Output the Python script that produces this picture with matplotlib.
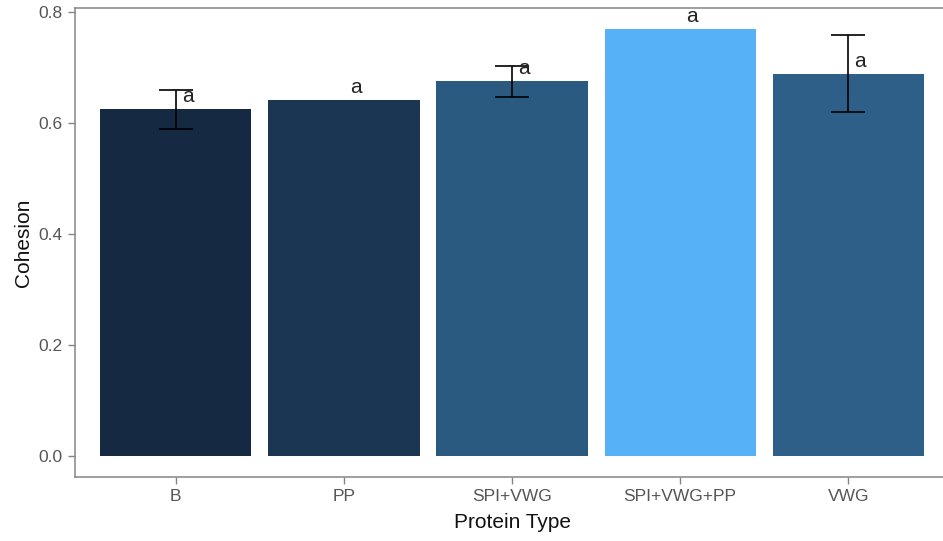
import numpy as np
import matplotlib.pyplot as plt

plt.rcParams['font.family'] = ['Liberation Sans', 'DejaVu Sans']

proteins = ['B', 'PP', 'SPI+VWG', 'SPI+VWG+PP', 'VWG']
cohesion = [0.625, 0.641, 0.675, 0.769, 0.689]
se = [0.035, np.nan, 0.028, np.nan, 0.070]
groups = ['a', 'a', 'a', 'a', 'a']
fills = ['#152A42', '#1B3652', '#2A5A80', '#56B1F7', '#2D5F88']

fig = plt.figure(figsize=(9.43, 5.41), dpi=100)
ax = fig.add_axes([0.0795, 0.1183, 0.927, 0.8667])

x = np.arange(len(proteins))
ax.bar(x, cohesion, width=0.9, color=fills, zorder=2)

# only draw error bars where a standard error exists
has_se = ~np.isnan(se)
ax.errorbar(x[has_se], np.array(cohesion)[has_se], yerr=np.array(se)[has_se],
            fmt='none', ecolor='black', elinewidth=1.2, capsize=12,
            capthick=1.2, zorder=3)

for xi, yi, g in zip(x, cohesion, groups):
    ax.annotate(g, (xi + 0.07, yi), xytext=(0, 5), textcoords='offset points',
                ha='center', va='baseline', fontsize=15, color='#222222',
                zorder=4)

ax.set_xlim(-0.6, 4.6)
ax.set_ylim(-0.038, 0.807)
ax.set_xticks(x)
ax.set_xticklabels(proteins)
ax.set_yticks([0.0, 0.2, 0.4, 0.6, 0.8])
ax.set_yticklabels(['0.0', '0.2', '0.4', '0.6', '0.8'])

for s in ax.spines.values():
    s.set_color('#858585')
    s.set_linewidth(1.1)

ax.tick_params(axis='both', colors='#858585', length=5, width=1.0,
               labelsize=12.5, labelcolor='#555555', pad=4)

ax.set_xlabel('Protein Type', fontsize=15, color='#111111', labelpad=6)
ax.set_ylabel('Cohesion', fontsize=15, color='#111111', labelpad=4)

fig.savefig('out.png', dpi=100)
